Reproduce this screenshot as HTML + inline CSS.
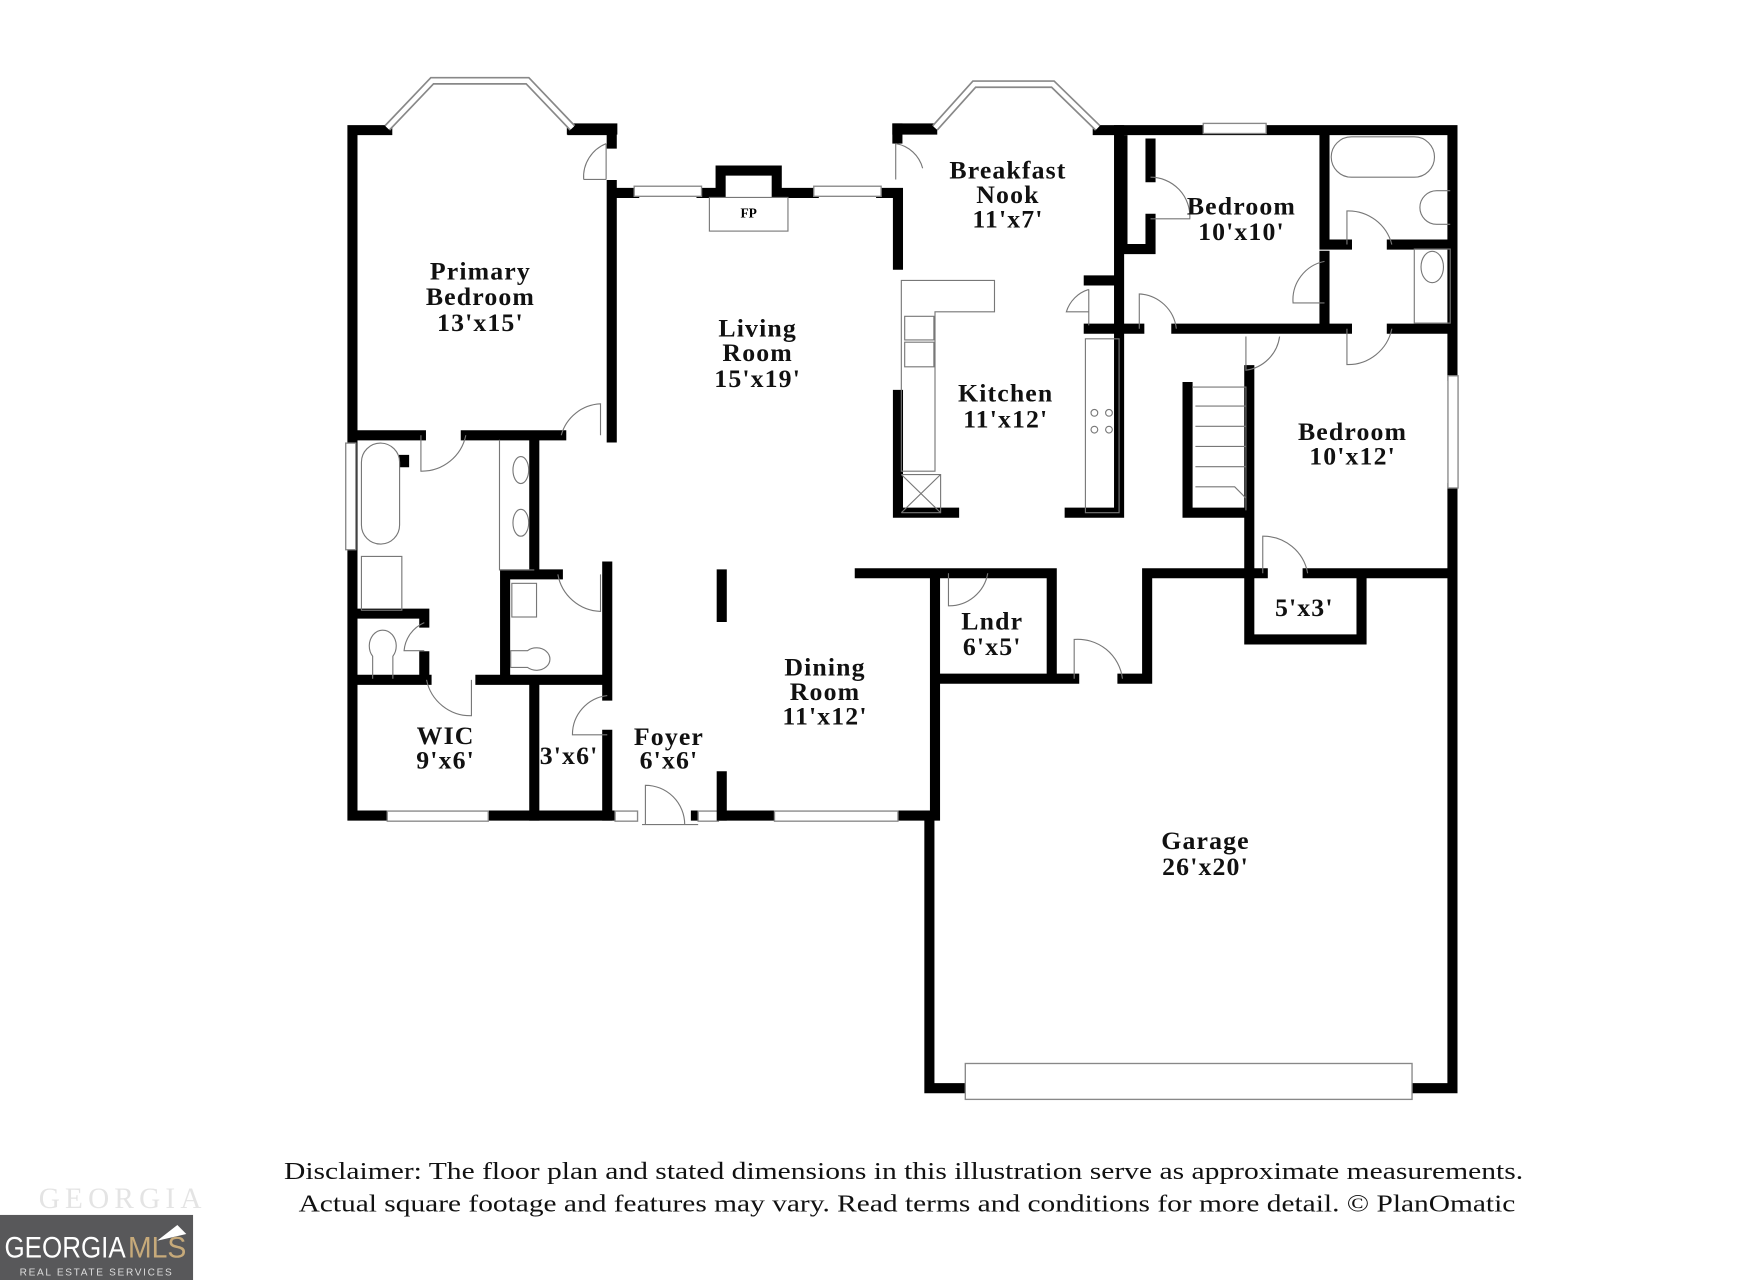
<!DOCTYPE html>
<html><head><meta charset="utf-8"><style>
html,body{margin:0;padding:0;background:#fff;}
svg{display:block;}
.w{fill:none;stroke:#000;stroke-width:9;stroke-linecap:square;}
.t{fill:none;stroke:#777;stroke-width:1;}
.win{fill:#fff;stroke:#888;stroke-width:1.2;}
.lbl{font-family:"Liberation Serif",serif;font-weight:bold;font-size:23px;letter-spacing:1px;fill:#111;text-anchor:middle;}
.dis{font-family:"Liberation Serif",serif;font-size:22px;fill:#111;text-anchor:middle;}
</style></head><body>
<svg width="1760" height="1280" viewBox="0 0 1568 1141" preserveAspectRatio="none" xmlns="http://www.w3.org/2000/svg">
<rect width="1568" height="1141" fill="#fff"/>
<!-- exterior walls -->
<path class="w" d="M314 116 V727 H550 M345 116 H314 M510 116 H545 V128 M545 165 V390 M545 172 H565 M625 172 H642 V152 H692 V172 H725 M785 172 H800 V236 M978 116 H1294 V335 M1294 435 V970 H1258 M860 970 H828 V727 H800 M640 727 H690 M620 727 H625 M550 727 H555"/>
<rect x="795" y="110" width="40" height="10" fill="#000"/>
<rect x="795" y="110" width="9" height="18" fill="#000"/>
<rect x="505" y="110" width="45" height="10" fill="#000"/>
<!-- bay windows -->
<path d="M345 114 L385 72 H470 L510 114" fill="none" stroke="#888" stroke-width="7"/>
<path d="M345 114 L385 72 H470 L510 114" fill="none" stroke="#fff" stroke-width="4"/>
<path d="M833 114 L868 75 H938 L978 114" fill="none" stroke="#888" stroke-width="7"/>
<path d="M833 114 L868 75 H938 L978 114" fill="none" stroke="#fff" stroke-width="4"/>
<!-- windows -->
<rect class="win" x="565" y="166" width="60" height="9"/>
<rect class="win" x="725" y="166" width="60" height="9"/>
<rect class="win" x="1072" y="110" width="56" height="9"/>
<rect class="win" x="1290" y="335" width="9" height="100"/>
<rect class="win" x="345" y="723" width="90" height="9"/>
<rect class="win" x="690" y="723" width="110" height="9"/>
<rect class="win" x="548" y="723" width="20" height="9"/>
<rect class="win" x="622" y="723" width="18" height="9"/>
<rect class="win" x="308" y="395" width="9" height="95"/>
<rect class="win" x="860" y="948" width="398" height="32"/>
<rect class="t" x="632" y="176" width="70" height="30"/>
<text x="667" y="194" style="font-family:'Liberation Serif',serif;font-weight:bold;font-size:12px;text-anchor:middle">FP</text>
<!-- exterior doors -->
<path class="t" d="M540 128 V160 M540 128 A32 32 0 0 0 520 160 M540 160 H520"/>
<path class="t" d="M798 128 V160 M798 128 A30 30 0 0 1 822 150"/>
<path class="t" d="M575 735 V700 A35 35 0 0 1 610 735 M572 735 H622"/>
<!-- interior walls left -->
<path class="w" d="M318 388 H375 M415 388 H500 M476 392 V508 M450 512 H497 M450 512 V605 M541 505 V620 M541 655 V727 M318 606 H380 M428 606 H541 M476 610 V727 M320 547 H378 M378 547 V555 M378 585 V606 M360 410 V412"/>
<path class="t" d="M445 392 V508 H476 M375 388 V420 A40 40 0 0 0 415 388 M500 388 A38 38 0 0 1 535 360 V388 M497 512 A40 40 0 0 0 535 545 V512 M380 606 A40 40 0 0 0 420 638 V606 M541 620 A35 35 0 0 0 510 655 H541 M378 555 A30 30 0 0 0 360 580 H378"/>
<rect class="t" x="322" y="395" width="34" height="90" rx="17"/>
<rect class="t" x="322" y="496" width="36" height="48"/>
<rect class="t" x="456" y="520" width="22" height="30"/>
<ellipse class="t" cx="464" cy="419" rx="7" ry="12"/>
<ellipse class="t" cx="464" cy="466" rx="7" ry="12"/>
<path class="t" d="M332 605 V585 A12 14 0 1 1 350 585 V605 M455 580 H470 A12 10 0 1 1 470 595 H455Z"/>
<!-- living/dining -->
<path class="w" d="M643 512 V550 M643 692 V727 M766 511 H833 V727 M833 511 H937 V605 M833 605 H957 M1000 605 H1022 V511 H1113"/>
<path class="t" d="M845 511 V540 A35 35 0 0 0 880 511 M957 605 V570 A40 40 0 0 1 1000 605"/>
<!-- kitchen -->
<path class="w" d="M800 352 V457 H850 M953 457 H997 V116 M1000 125 V222 H1025 M1025 128 V158 M1025 195 V222 M1000 293 H1015 M1048 293 H1178 M970 250 H997 M970 293 H997 M1180 120 V218 M1180 218 H1200 M1240 218 H1294 M1200 293 H1180 M1240 293 H1294 M1180 228 V285"/>
<path class="t" d="M803 250 H886 V278 H833 V420 H803 Z M806 282 H832 V303 H806Z M806 305 H832 V327 H806Z M803 423 H838 V457 H803 M803 423 L838 457 M838 423 L803 457 M967 302 H997 V457 H967 Z M970 258 V290 M970 258 A30 30 0 0 0 950 278 H970"/>
<circle class="t" cx="975" cy="368" r="3"/><circle class="t" cx="988" cy="368" r="3"/><circle class="t" cx="975" cy="383" r="3"/><circle class="t" cx="988" cy="383" r="3"/>
<path class="t" d="M1025 158 A35 35 0 0 1 1060 195 H1025 M1015 293 V262 A35 35 0 0 1 1048 293 M1200 218 V188 A40 40 0 0 1 1240 218 M1180 233 A35 35 0 0 0 1152 270 H1180 M1200 293 V325 A40 40 0 0 0 1240 293"/>
<rect class="t" x="1186" y="122" width="92" height="36" rx="18"/>
<rect class="t" x="1260" y="222" width="32" height="66"/>
<ellipse class="t" cx="1276" cy="238" rx="10" ry="14"/>
<path class="t" d="M1292 170 H1280 A12 12 0 1 0 1280 200 H1292"/>
<!-- stairs & bedroom 2 -->
<path class="w" d="M1058 345 V457 H1110 M1113 330 V570 H1213 V511 M1113 511 H1125 M1165 511 H1294"/>
<path class="t" d="M1110 300 V330 A35 35 0 0 0 1140 300 M1125 511 V478 A40 40 0 0 1 1165 511"/>
<path class="t" d="M1062 345 H1110 V455 M1065 362 H1110 M1065 380 H1110 M1065 398 H1110 M1065 416 H1110 M1065 434 H1100 L1110 444"/>
<!-- labels -->
<text class="lbl"><tspan x="428" y="249">Primary</tspan><tspan x="428" y="272">Bedroom</tspan><tspan x="428" y="295">13'x15'</tspan></text>
<text class="lbl"><tspan x="675" y="300">Living</tspan><tspan x="675" y="322">Room</tspan><tspan x="675" y="345">15'x19'</tspan></text>
<text class="lbl"><tspan x="898" y="159">Breakfast</tspan><tspan x="898" y="181">Nook</tspan><tspan x="898" y="203">11'x7'</tspan></text>
<text class="lbl"><tspan x="896" y="358">Kitchen</tspan><tspan x="896" y="381">11'x12'</tspan></text>
<text class="lbl"><tspan x="1106" y="191">Bedroom</tspan><tspan x="1106" y="214">10'x10'</tspan></text>
<text class="lbl"><tspan x="1205" y="392">Bedroom</tspan><tspan x="1205" y="414">10'x12'</tspan></text>
<text class="lbl"><tspan x="735" y="602">Dining</tspan><tspan x="735" y="624">Room</tspan><tspan x="735" y="646">11'x12'</tspan></text>
<text class="lbl"><tspan x="884" y="561">Lndr</tspan><tspan x="884" y="584">6'x5'</tspan></text>
<text class="lbl" x="1162" y="549">5'x3'</text>
<text class="lbl"><tspan x="397" y="663">WIC</tspan><tspan x="397" y="685">9'x6'</tspan></text>
<text class="lbl" x="507" y="681">3'x6'</text>
<text class="lbl"><tspan x="596" y="664">Foyer</tspan><tspan x="596" y="685">6'x6'</tspan></text>
<text class="lbl"><tspan x="1074" y="757">Garage</tspan><tspan x="1074" y="780">26'x20'</tspan></text>
<!-- disclaimer -->
<text class="dis" x="805" y="1051" textLength="1104" lengthAdjust="spacingAndGlyphs">Disclaimer: The floor plan and stated dimensions in this illustration serve as approximate measurements.</text>
<text class="dis" x="808" y="1080" textLength="1084" lengthAdjust="spacingAndGlyphs">Actual square footage and features may vary. Read terms and conditions for more detail. © PlanOmatic</text>
<!-- logo -->
<text x="107" y="1077" style="font-family:'Liberation Serif',serif;font-size:26px;fill:#e4e4e4;text-anchor:middle" textLength="145">GEORGIA</text>
<rect x="0" y="1083" width="172" height="58" fill="#58585a"/>
<text x="4" y="1121" style="font-family:'Liberation Sans',sans-serif;font-size:26px;fill:#fff" textLength="108" lengthAdjust="spacingAndGlyphs">GEORGIA</text>
<text x="114" y="1121" style="font-family:'Liberation Sans',sans-serif;font-size:26px;fill:#c7aa7a" textLength="52" lengthAdjust="spacingAndGlyphs">MLS</text>
<path d="M140 1106 L158 1092 L166 1100 Z" fill="#fff"/>
<text x="86" y="1137" style="font-family:'Liberation Sans',sans-serif;font-size:9px;fill:#ddd;text-anchor:middle;letter-spacing:1.5px">REAL ESTATE SERVICES</text>
</svg>
</body></html>
